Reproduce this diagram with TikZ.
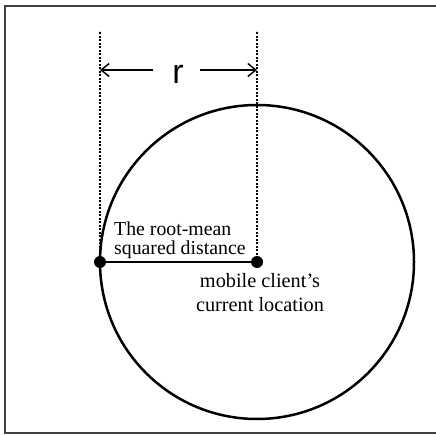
\documentclass[tikz,border=0pt]{standalone}
\usepackage{fontspec}
\setmainfont{Liberation Serif}
\newfontfamily\rfont{Liberation Sans}
\usetikzlibrary{positioning,arrows.meta}
\definecolor{Frame}{HTML}{404040}

\begin{document}
\begin{tikzpicture}[x=1pt,y=-1pt,
    guide/.style={line width=1.2pt,dash pattern=on 2.2pt off 1.3pt},
    spot/.style={circle,fill=black,inner sep=0pt,minimum size=12pt},
    span/.style={line width=1.5pt,-{Straight Barb[length=8pt,width=13pt,line width=1.5pt]}},
    note/.style={inner sep=0pt,align=left}]
    \useasboundingbox (0,0) rectangle (436,435);
    \draw[Frame,line width=2pt] (440,6) -- (5,6) -- (5,433) -- (440,433);
    % circle with centre and point on the rim
    \node[spot] (ctr) at (257,262) {};
    \node[spot] (rim) at (100,262) {};
    \draw[line width=2.5pt] (ctr.center) circle[radius=157];
    \draw[line width=2.5pt] (rim.center) -- (ctr.center);
    % dimension r
    \coordinate (rimtop) at (100,31);
    \coordinate (ctrtop) at (257,31);
    \draw[guide] (rim.center) -- (rimtop);
    \draw[guide] (ctr.center) -- (ctrtop);
    \node[anchor=base,inner sep=0pt,font=\rfont\fontsize{34}{34}\selectfont] (rlbl) at (178,84) {r};
    \coordinate (spanl) at (153,70);
    \coordinate (spanr) at (200,70);
    \draw[span] (spanl) -- (rimtop |- spanl);
    \draw[span] (spanr) -- (ctrtop |- spanr);
    % labels
    \node[note,anchor=base west,font=\fontsize{19.8}{19.5}\selectfont] (rms) at (114,255) {The root-mean\\squared distance};
    \node[note,align=center,anchor=base,font=\fontsize{20.3}{24}\selectfont] (loc) at (260,312) {mobile client’s\\current location};
\end{tikzpicture}
\end{document}
